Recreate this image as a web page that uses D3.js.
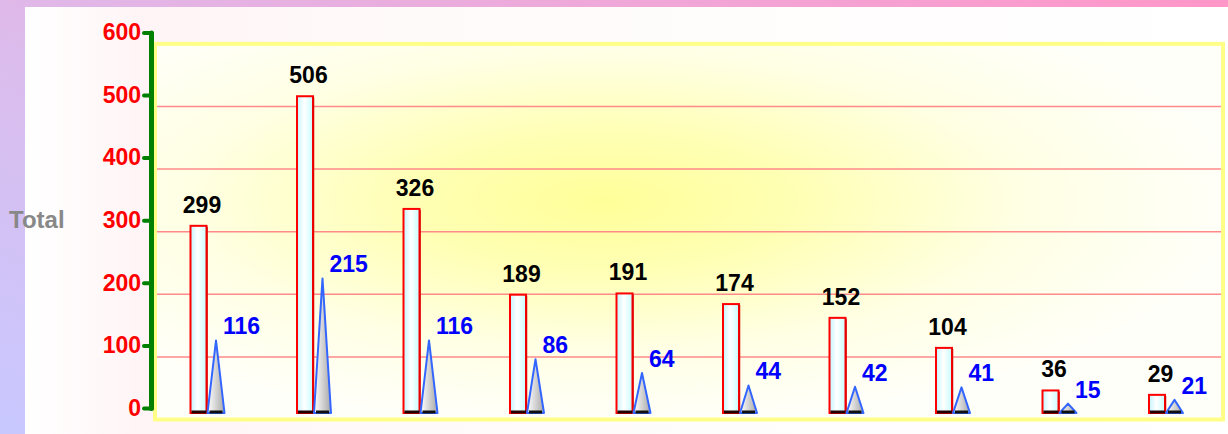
<!DOCTYPE html>
<html>
<head>
<meta charset="utf-8">
<script src="https://cdn.jsdelivr.net/npm/d3@7"></script>
<style>
  body { margin: 0; }
  svg { display: block; }
  text { font-family: Arial, "Liberation Sans", sans-serif; font-weight: bold; }
</style>
</head>
<body>
<svg id="chart"></svg>
<script>
// chart data
const categories = ["1", "2", "3", "4", "5", "6", "7", "8", "9", "10"];
const totals = [299, 506, 326, 189, 191, 174, 152, 104, 36, 29];
const seconds = [116, 215, 116, 86, 64, 44, 42, 41, 15, 21];
const yTicks = [0, 100, 200, 300, 400, 500, 600];
const yTitle = "Total";

var width = 1228,
    height = 434;

var svg = d3.select("#chart")
    .attr("width", width)
    .attr("height", height);

var defs = svg.append("defs");

// background gradients
var bg = defs.append("linearGradient").attr("id", "bgGrad")
    .attr("x1", 0).attr("y1", 1).attr("x2", 1).attr("y2", 0);
bg.append("stop").attr("offset", "0%").attr("stop-color", "#c8c8ff");
bg.append("stop").attr("offset", "45%").attr("stop-color", "#dcbcec");
bg.append("stop").attr("offset", "100%").attr("stop-color", "#ff96c8");

var panel = defs.append("linearGradient").attr("id", "panelGrad")
    .attr("x1", 0).attr("y1", 0).attr("x2", 1).attr("y2", 0);
panel.append("stop").attr("offset", "0%").attr("stop-color", "#ffffff");
panel.append("stop").attr("offset", "10%").attr("stop-color", "#fff4f6");
panel.append("stop").attr("offset", "30%").attr("stop-color", "#fffafa");
panel.append("stop").attr("offset", "100%").attr("stop-color", "#ffffff");

var plotGrad = defs.append("radialGradient").attr("id", "plotGrad")
    .attr("cx", 0.42).attr("cy", 0.42).attr("r", 0.6);
plotGrad.append("stop").attr("offset", "0%").attr("stop-color", "#ffff99");
plotGrad.append("stop").attr("offset", "30%").attr("stop-color", "#ffffb4");
plotGrad.append("stop").attr("offset", "65%").attr("stop-color", "#ffffe4");
plotGrad.append("stop").attr("offset", "100%").attr("stop-color", "#fffffa");

var barGrad = defs.append("linearGradient").attr("id", "barGrad")
    .attr("x1", 0).attr("y1", 0).attr("x2", 1).attr("y2", 0);
barGrad.append("stop").attr("offset", "0%").attr("stop-color", "#c4f4ff");
barGrad.append("stop").attr("offset", "45%").attr("stop-color", "#ffffff");
barGrad.append("stop").attr("offset", "100%").attr("stop-color", "#c8fcff");

var triGrad = defs.append("linearGradient").attr("id", "triGrad")
    .attr("x1", 0).attr("y1", 0).attr("x2", 1).attr("y2", 0);
triGrad.append("stop").attr("offset", "0%").attr("stop-color", "#ffffff");
triGrad.append("stop").attr("offset", "100%").attr("stop-color", "#a8a8a8");

svg.append("rect").attr("width", width).attr("height", height).attr("fill", "url(#bgGrad)");
svg.append("rect").attr("x", 25).attr("y", 7).attr("width", width - 25).attr("height", height - 7)
    .attr("fill", "url(#panelGrad)");

// scales
var xScale = d3.scaleBand().domain(categories).range([157, 1222]).padding(0);
var yScale = d3.scaleLinear().domain([0, 600]).range([413, 37.4]);

var gridShift = 6.5,
    axisShift = -5;

// plot area
svg.append("rect")
    .attr("x", 155)
    .attr("y", yScale(600) + gridShift)
    .attr("width", 1068)
    .attr("height", yScale(0) - yScale(600))
    .attr("fill", "url(#plotGrad)")
    .attr("stroke", "#ffff88")
    .attr("stroke-width", 4);

// grid lines
svg.append("g")
    .selectAll("line")
    .data(yTicks.filter(d => d > 0 && d < 600))
    .join("line")
    .attr("x1", 157).attr("x2", 1221)
    .attr("y1", d => yScale(d) + gridShift)
    .attr("y2", d => yScale(d) + gridShift)
    .attr("stroke", "#ff8a8a")
    .attr("stroke-width", 1.5);

// y axis
var axis = svg.append("g")
    .attr("transform", "translate(151," + axisShift + ")")
    .call(d3.axisLeft(yScale).tickValues(yTicks).tickSize(7).tickSizeOuter(0).tickPadding(3));

axis.select(".domain")
    .attr("stroke", "#008000")
    .attr("stroke-width", 5)
    .attr("stroke-linecap", "round");
axis.selectAll(".tick line")
    .attr("stroke", "#008000")
    .attr("stroke-width", 4)
    .attr("stroke-linecap", "round");
axis.selectAll(".tick text")
    .attr("fill", "#ff0000")
    .style("font-size", "23px")
    .style("font-family", "Arial, 'Liberation Sans', sans-serif");

svg.append("text")
    .attr("x", 9)
    .attr("y", 219)
    .attr("dy", "0.36em")
    .attr("fill", "#888888")
    .style("font-size", "24px")
    .text(yTitle);

var barOffset = 33.5,
    barW = 17;
var y0 = yScale(0);

var groups = svg.append("g")
    .selectAll("g")
    .data(categories)
    .join("g")
    .attr("transform", d => "translate(" + (xScale(d) + barOffset) + ",0)");

// total bars
groups.append("rect")
    .attr("x", 0)
    .attr("y", (d, i) => yScale(totals[i]))
    .attr("width", barW - 1)
    .attr("height", (d, i) => y0 - yScale(totals[i]))
    .attr("fill", "url(#barGrad)")
    .attr("stroke", "#ff0000")
    .attr("stroke-width", 2);

groups.append("line")
    .attr("x1", barW - 0.5).attr("x2", barW - 0.5)
    .attr("y1", (d, i) => yScale(totals[i]) + 1)
    .attr("y2", y0)
    .attr("stroke", "#e00000")
    .attr("stroke-width", 1.5);

groups.append("line")
    .attr("x1", 1).attr("x2", barW - 1)
    .attr("y1", y0 - 1).attr("y2", y0 - 1)
    .attr("stroke", "#200000")
    .attr("stroke-width", 3);

// second series (cones)
var triX = barW;
groups.append("path")
    .attr("d", (d, i) => "M" + triX + "," + y0 +
        "L" + (triX + barW / 2) + "," + yScale(seconds[i]) +
        "L" + (triX + barW) + "," + y0 + "Z")
    .attr("fill", "url(#triGrad)")
    .attr("stroke", "#3366ff")
    .attr("stroke-width", 2)
    .attr("stroke-linejoin", "round");

groups.append("line")
    .attr("x1", triX + 2).attr("x2", triX + barW - 2)
    .attr("y1", y0 - 1).attr("y2", y0 - 1)
    .attr("stroke", "#101010")
    .attr("stroke-width", 3);

// value labels
groups.append("text")
    .attr("x", barW / 2 + 3)
    .attr("y", (d, i) => yScale(totals[i]) - 13)
    .attr("text-anchor", "middle")
    .attr("fill", "#000000")
    .style("font-size", "23px")
    .text((d, i) => totals[i]);

groups.append("text")
    .attr("x", triX + barW / 2 + 7)
    .attr("y", (d, i) => yScale(seconds[i]) - 6)
    .attr("fill", "#0000ff")
    .style("font-size", "23px")
    .text((d, i) => seconds[i]);
</script>
</body>
</html>
